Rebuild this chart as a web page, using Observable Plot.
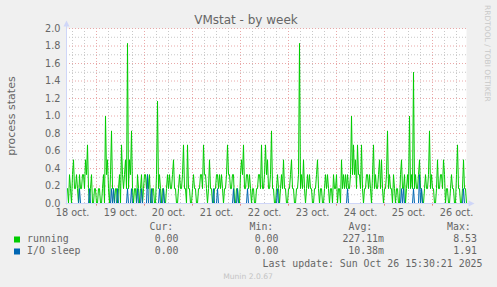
<!DOCTYPE html>
<html><head><meta charset="utf-8">
<script src="https://cdn.jsdelivr.net/npm/d3@7"></script>
<script src="https://cdn.jsdelivr.net/npm/@observablehq/plot@0.6"></script>
<style>
html,body{margin:0;padding:0;background:#f0f0f0;}
#chart{width:497px;height:287px;overflow:hidden;}
</style></head><body><div id="chart"></div>
<script>
const title = "VMstat - by week";
const yLabel = "process states";
const startTime = "2025-10-18T09:00:00Z";
const endTime = "2025-10-26T17:00:00Z";
const dataStartTime = "2025-10-18T09:30:00Z";
const stepHours = 0.5;
const dayLabels = ["18 oct.","19 oct.","20 oct.","21 oct.","22 oct.","23 oct.","24 oct.","25 oct.","26 oct."];
const dayLabelTimes = ["2025-10-18T12:00:00Z","2025-10-19T12:00:00Z","2025-10-20T12:00:00Z","2025-10-21T12:00:00Z","2025-10-22T12:00:00Z","2025-10-23T12:00:00Z","2025-10-24T12:00:00Z","2025-10-25T12:00:00Z","2025-10-26T12:00:00Z"];
const yTicks = [0.0,0.2,0.4,0.6,0.8,1.0,1.2,1.4,1.6,1.8,2.0];
const yMinorTicks = [0.1,0.3,0.5,0.7,0.9,1.1,1.3,1.5,1.7,1.9];

const running = [
0.17,0,0.33,0.17,0,0.33,0.5,0.17,0.17,0.33,0.17,0,0.33,0.17,0.17,0.33,0.33,0.17,0.5,0.33,
0.67,0.17,0,0.17,0.33,0,0,0.17,0.17,0,0,0.17,0.17,0,0,0.17,0.33,0,1,0.33,
0.5,0.17,0,0.33,0.83,0.17,0.17,0,0.17,0.17,0,0.17,0.33,0,0.67,0.33,0.17,0.33,0.5,0.17,
1.83,0.17,0.5,0.33,0.83,0.17,0,0.17,0.17,0,0.33,0.17,0,0.17,0.33,0,0.17,0.33,0.33,0.17,
0.33,0.17,0.33,0,0,0.17,0.17,0,0,0.33,1.17,0.17,0.33,0.17,0,0.17,0.17,0,0,0.17,
0.33,0.17,0.33,0.17,0.17,0.33,0.5,0.17,0.17,0,0,0.17,0.33,0.17,0.17,0.33,0.67,0.17,0.17,0,
0.67,0.17,0.17,0,0,0.17,0.33,0.17,0.17,0,0,0.17,0.17,0.33,0.33,0.17,0.67,0.33,0.33,0.17,
0,0.17,0.5,0.17,0.17,0,0,0.17,0.17,0.33,0.33,0.17,0.33,0.17,0.33,0.17,0,0.17,0.17,0.33,
0.67,0.33,0.33,0.17,0.17,0.33,0.33,0,0,0.17,0.17,0,0,0.33,0.5,0.33,0.67,0.17,0.17,0.33,
0.33,0.17,0.33,0.17,0,0.17,0.17,0,0,0.17,0.17,0.33,0.33,0.17,0.67,0.17,0.17,0.33,0.67,0.33,
0.5,0.17,0.17,0.33,0.83,0.17,0.17,0,0,0.17,0.33,0.17,0,0.17,0.33,0.17,0.5,0.17,0.17,0,
0,0.17,0.17,0.33,0.5,0.17,0.17,0,0,0.17,0.17,0.33,1.83,0.17,0.33,0.17,0.5,0.17,0,0.17,
0.33,0.17,0.33,0.17,0.17,0,0,0.17,0.17,0.33,0.5,0.17,0,0.17,0.17,0,0,0.17,0.33,0.17,
0.33,0.17,0,0.17,0.17,0,0.33,0.17,0.17,0.33,0,0.17,0.17,0,0.5,0.17,0.33,0.17,0.33,0.17,
0.33,0.17,0.17,0.33,1,0.33,0.67,0.33,0.5,0.17,0.67,0.33,0.33,0.17,0.67,0.17,0,0.17,0.17,0.33,
0.33,0.17,0.33,0.17,0,0.33,0.67,0.17,0.33,0.17,0.17,0.33,0.5,0.17,0.5,0.17,0,0.17,0.17,0.33,
0.83,0.17,0.33,0.17,0.17,0,0.33,0.17,0,0.17,0.17,0,0,0.33,0.5,0.17,0.17,0.33,0,0.17,
0.33,0.17,1,0.17,0.33,0.17,1.5,0.17,0.33,0.17,0.17,0.33,0.5,0.17,0.17,0,0,0.17,0.33,0.17,
0.17,0.33,0.83,0.17,0.33,0.17,0.17,0,0,0.17,0.5,0.17,0.17,0.33,0.33,0.17,0.5,0.33,0,0.17,
0.17,0,0,0.17,0.33,0.17,0.17,0,0,0.33,0.67,0.17,0.17,0,0,0.17,0.5,0.17,0.17,0
];
const ioSleep = [
0,0,0,0,0,0,0,0,0,0,0,0,0.17,0,0,0,0,0,0,0,
0,0,0.17,0,0,0,0,0,0,0,0,0,0,0,0,0,0,0,0,0,
0,0,0,0,0.17,0,0.17,0,0,0,0.17,0,0,0,0,0,0,0,0,0,
0.17,0,0,0,0.17,0,0,0,0,0,0.17,0,0,0,0.17,0,0,0,0,0,
0.33,0,0,0,0.17,0,0,0,0,0,0,0,0.17,0,0,0,0.17,0,0,0,
0,0,0,0,0,0,0,0,0,0,0,0,0,0,0,0,0,0,0,0,
0,0,0,0,0,0,0,0,0,0,0,0,0,0,0,0,0,0,0,0,
0,0,0,0,0,0,0.17,0,0,0,0.17,0,0,0,0,0,0,0,0,0,
0,0,0,0,0,0,0.17,0,0,0,0.17,0,0,0,0,0,0,0,0,0,
0.17,0,0,0,0,0,0,0,0,0,0,0,0,0,0,0,0,0,0,0,
0,0,0,0,0,0,0,0,0,0,0.17,0,0,0,0,0,0,0,0,0,
0,0,0,0,0,0,0,0,0,0,0,0,0,0,0,0,0,0,0,0,
0,0,0,0,0,0,0,0,0,0,0,0,0,0,0,0,0,0,0,0,
0,0,0,0,0,0,0,0,0,0,0,0,0,0,0,0,0,0,0,0,
0.17,0,0,0,0,0,0,0,0,0,0,0,0,0,0,0,0,0,0,0,
0,0,0,0,0,0,0,0,0,0,0,0,0,0,0,0,0,0,0,0,
0,0,0,0,0,0,0,0,0,0,0,0,0,0,0.17,0,0.17,0,0,0,
0,0,0,0,0,0,0.17,0,0,0,0,0,0.33,0,0.17,0,0,0,0,0,
0,0,0,0,0,0,0,0,0,0,0,0,0,0,0,0,0,0,0,0,
0,0,0,0,0,0,0,0,0,0,0,0,0,0,0,0,0.17,0,0,0
];

const legendNames = ["running","I/O sleep"];
const legendColors = ["#00cc00","#0066b3"];
const legendHeaders = ["Cur:","Min:","Avg:","Max:"];
const curValues = ["0.00","0.00"];
const minValues = ["0.00","0.00"];
const avgValues = ["227.11m","10.38m"];
const maxValues = ["8.53","1.91"];
const lastUpdate = "Last update: Sun Oct 26 15:30:21 2025";
const watermark = "Munin 2.0.67";
const sideText = "RRDTOOL / TOBI OETIKER";

const start = new Date(startTime), end = new Date(endTime);
const t0 = new Date(dataStartTime).getTime();
const rows = running.map((v, i) => ({t: new Date(t0 + i * stepHours * 3600e3), running: v, io: ioSleep[i]}));
const days = dayLabels.map((label, i) => ({t: new Date(dayLabelTimes[i]), label}));
const majorX = d3.utcDay.range(start, end);
const minorX = d3.utcHour.every(6).range(start, end).filter(d => d.getUTCHours() !== 0);
const dotted = "1,2";
const axisColor = "#cfd6f8";
const fontColor = "#666";

const chart = Plot.plot({
  width: 497, height: 287,
  marginLeft: 66, marginRight: 31, marginTop: 28, marginBottom: 84,
  style: {background: "transparent", fontFamily: "DejaVu Sans", color: fontColor, overflow: "visible"},
  x: {type: "utc", domain: [start, end], axis: null},
  y: {domain: [0, 2]},
  marks: [
    Plot.frame({fill: "white", stroke: "none"}),
    Plot.ruleY(yMinorTicks, {stroke: "#c8c8c8", strokeDasharray: dotted}),
    Plot.ruleX(minorX, {stroke: "#c8c8c8", strokeDasharray: dotted}),
    Plot.ruleY(yTicks.filter(d => d > 0), {stroke: "#e9a8a8", strokeDasharray: dotted}),
    Plot.ruleX(majorX, {stroke: "#e9a8a8", strokeDasharray: dotted}),
    Plot.ruleX(majorX, {y1: 0, y2: -0.03, stroke: "#e88080", clip: false}),
    Plot.line(rows, {x: "t", y: "running", stroke: legendColors[0], strokeWidth: 1}),
    Plot.line(rows, {x: "t", y: "io", stroke: legendColors[1], strokeWidth: 1}),
    Plot.axisY(yTicks, {tickSize: 0, tickPadding: 6, tickFormat: d => d.toFixed(1), fontSize: 9.7, label: null}),
    Plot.text(days, {x: "t", text: "label", frameAnchor: "bottom", lineAnchor: "top", dy: 6, fontSize: 9.7, fill: fontColor})
  ]
});
document.getElementById("chart").appendChild(chart);

const svg = d3.select(chart);
const xs = chart.scale("x"), ys = chart.scale("y");
const X0 = xs.apply(start) + 0.5, X1 = xs.apply(end) + 0.5;
const Y0 = ys.apply(0) + 0.5, Y1 = ys.apply(2) + 0.5;

// axes with arrows (drawn on top of data)
const ax = svg.append("g").attr("fill", "none").attr("stroke", axisColor);
ax.append("line").attr("x1", X0 - 1).attr("x2", X1 + 4).attr("y1", Y0).attr("y2", Y0);
ax.append("line").attr("x1", X0).attr("x2", X0).attr("y1", Y0 + 1).attr("y2", Y1 - 4);
svg.append("path").attr("fill", axisColor)
  .attr("d", `M${X1 + 2},${Y0 - 3}L${X1 + 8},${Y0}L${X1 + 2},${Y0 + 3}Z`);
svg.append("path").attr("fill", axisColor)
  .attr("d", `M${X0 - 3},${Y1 - 2}L${X0},${Y1 - 8}L${X0 + 3},${Y1 - 2}Z`);

// title
svg.append("text").attr("x", 246).attr("y", 24).attr("text-anchor", "middle")
  .attr("font-family", "DejaVu Sans").attr("font-size", 12).attr("fill", fontColor).text(title);

// y label
svg.append("text").attr("transform", "translate(15,116) rotate(-90)").attr("text-anchor", "middle")
  .attr("font-family", "DejaVu Sans").attr("font-size", 11).attr("fill", fontColor).text(yLabel);

// side watermark
svg.append("text").attr("transform", "translate(485,5) rotate(90)").attr("text-anchor", "start")
  .attr("font-family", "DejaVu Sans").attr("font-size", 7.5).attr("fill", "#c8c8c8").text(sideText);

// legend
const mono = "DejaVu Sans Mono";
const lg = svg.append("g").attr("font-family", mono).attr("font-size", 9.9).attr("fill", fontColor).attr("text-anchor", "start");
const headerX = [149.5, 249.5, 348.5, 447];
legendHeaders.forEach((h, i) => lg.append("text").attr("x", headerX[i]).attr("y", 230).attr("text-anchor", "start").text(h));
const rowY = [242, 254];
const colEnds = [178.5, 278.5, 384, 477];
const cols = [curValues, minValues, avgValues, maxValues];
legendNames.forEach((name, r) => {
  svg.append("rect").attr("x", 14).attr("y", rowY[r] - 5.5).attr("width", 6).attr("height", 6).attr("fill", legendColors[r]);
  lg.append("text").attr("x", 27).attr("y", rowY[r]).attr("text-anchor", "start").text(name);
  cols.forEach((col, c) => lg.append("text").attr("x", colEnds[c]).attr("y", rowY[r]).attr("text-anchor", "end").text(col[r]));
});
lg.append("text").attr("x", 482.5).attr("y", 266.5).attr("text-anchor", "end").text(lastUpdate);

svg.append("text").attr("x", 248).attr("y", 279).attr("text-anchor", "middle")
  .attr("font-family", "DejaVu Sans").attr("font-size", 7.6).attr("fill", "#c4c4c4").text(watermark);
</script></body></html>
